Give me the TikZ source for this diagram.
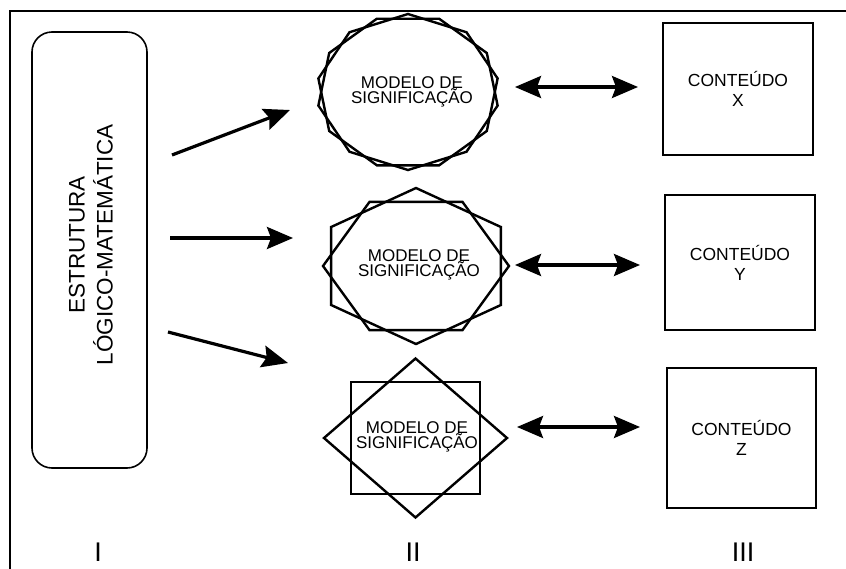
\documentclass[tikz,border=0pt]{standalone}
\usepackage{fontspec}
\setmainfont{Liberation Sans}
\usetikzlibrary{arrows.meta}
\begin{document}
\begin{tikzpicture}[x=1pt,y=-1pt,
  shapeline/.style={line width=2.4pt, line join=miter},
  arrowtip/.tip={Stealth[length=26pt,width=22pt,inset=4pt]},
  arr/.style={line width=3.2pt, -arrowtip},
  darr/.style={line width=3.2pt, arrowtip-arrowtip},
  cbox/.style={draw, line width=2.6pt, align=center, inner sep=0pt,
    font=\fontsize{17.5}{20}\selectfont},
  mtext/.style={align=center, inner sep=0pt, font=\fontsize{17}{15.5}\selectfont},
  roman/.style={inner sep=0pt, font=\fontsize{27}{27}\selectfont}]
\fill[white] (0,0) rectangle (846,568);
\useasboundingbox (0,0) rectangle (846,568);
% frame
\draw[line width=2.5pt] (10,570) -- (10,11) -- (848,11);
% column I
\node[draw, line width=1.6pt, rounded corners=20pt, minimum width=115pt,
  minimum height=436pt, inner sep=0pt] (est) at (89.5,250) {};
\node[rotate=90, align=center, inner sep=0pt,
  font=\fontsize{22.5}{28}\selectfont] (esttxt) at (91,245) {ESTRUTURA\\LÓGICO-MATEMÁTICA};
% shape 1: two nonagons
\draw[shapeline] plot[samples=9, domain=0:8, variable=\k]
  ({408+91*cos(270+40*\k)}, {92+78*sin(270+40*\k)}) -- cycle;
\draw[shapeline] plot[samples=9, domain=0:8, variable=\k]
  ({408+91*cos(90+40*\k)}, {92+78*sin(90+40*\k)}) -- cycle;
\node[mtext] (m1) at (412,92) {MODELO DE\\SIGNIFICAÇÃO};
% shape 2: two hexagons
\draw[shapeline] plot[samples=6, domain=0:5, variable=\k]
  ({416+98*cos(90+60*\k)}, {266+78*sin(90+60*\k)}) -- cycle;
\draw[shapeline] plot[samples=6, domain=0:5, variable=\k]
  ({416+93*cos(60*\k)}, {266+74*sin(60*\k)}) -- cycle;
\node[mtext] (m2) at (419,265) {MODELO DE\\SIGNIFICAÇÃO};
% shape 3: square and diamond
\draw[shapeline] plot[samples=4, domain=0:3, variable=\k]
  ({415.5+91.5*cos(45+90*\k)}, {438+79.5*sin(45+90*\k)}) -- cycle;
\draw[shapeline] plot[samples=4, domain=0:3, variable=\k]
  ({415.5+91.5*cos(90*\k)}, {438+79.5*sin(90*\k)}) -- cycle;
\node[mtext] (m3) at (417,437) {MODELO DE\\SIGNIFICAÇÃO};
% column III
\node[cbox, minimum width=150pt, minimum height=132pt] (cx) at (738,89) {CONTEÚDO\\X};
\node[cbox, minimum width=150pt, minimum height=135pt] (cy) at (740,262.5) {CONTEÚDO\\Y};
\node[cbox, minimum width=149pt, minimum height=140pt] (cz) at (741.5,438) {CONTEÚDO\\Z};
% single arrows
\coordinate (s1) at (172,155); \coordinate (e1) at (290,110);
\coordinate (s2) at (170,238); \coordinate (e2) at (293,238);
\coordinate (s3) at (168,332); \coordinate (e3) at (288,363);
\draw[arr] (s1) -- (e1);
\draw[arr] (s2) -- (e2);
\draw[arr] (s3) -- (e3);
% double arrows
\coordinate (d1a) at (515,87); \coordinate (d1b) at (638,87);
\coordinate (d2a) at (515,265); \coordinate (d2b) at (640,265);
\coordinate (d3a) at (517,427); \coordinate (d3b) at (640,427);
\draw[darr] (d1a) -- (d1b);
\draw[darr] (d2a) -- (d2b);
\draw[darr] (d3a) -- (d3b);
% roman labels
\node[roman] (l1) at (98,552) {I};
\node[roman] (l2) at (413,552) {II};
\node[roman] (l3) at (743,552) {III};
\end{tikzpicture}
\end{document}
